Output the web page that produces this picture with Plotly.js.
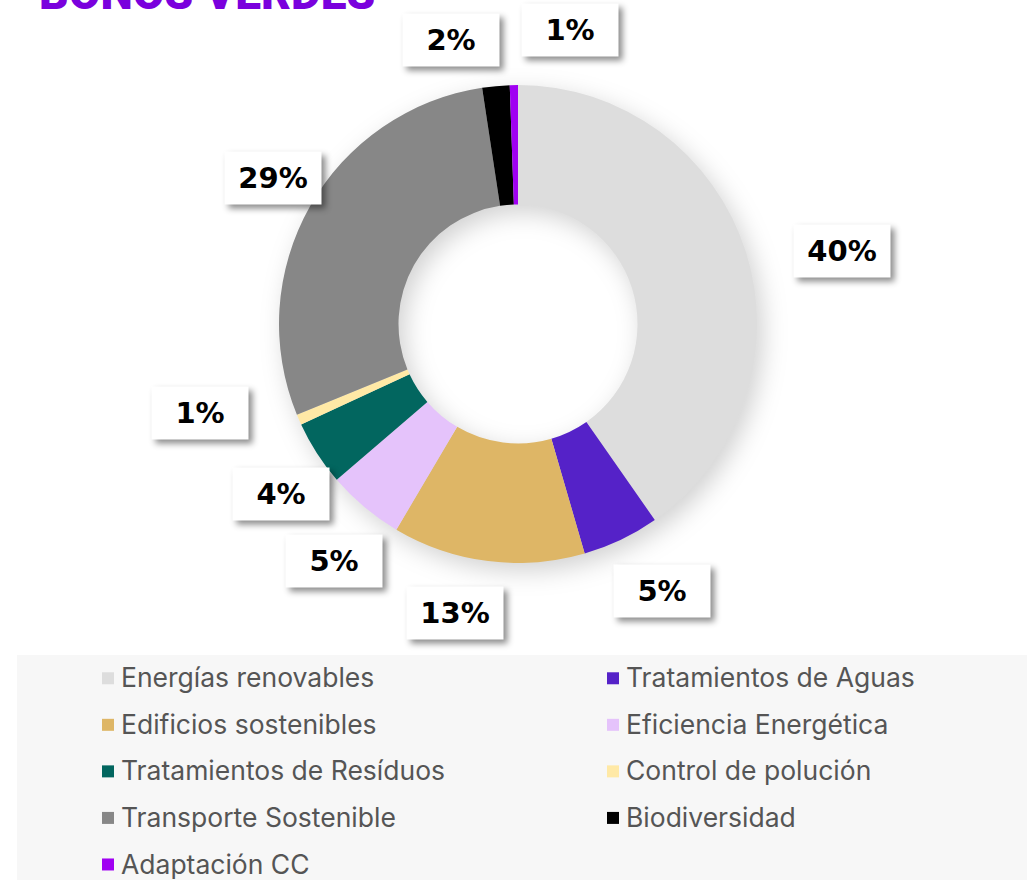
<!DOCTYPE html>
<html lang="es">
<head>
<meta charset="utf-8">
<script src="https://cdn.plot.ly/plotly-3.0.1.min.js"></script>
<style>
  html, body { margin: 0; padding: 0; background: #fff; }
  #chart { width: 1033px; height: 880px; }
  /* sombra suave del anillo y de las cajas de porcentaje */
  .pielayer { filter: drop-shadow(6px 8px 12px rgba(0, 0, 0, 0.18)); }
  .annotation rect.bg { filter: drop-shadow(4px 4px 3px rgba(0, 0, 0, 0.45)); }
  /* la leyenda se calcula con fuente grande (filas separadas) pero se pinta más pequeña */
  .legendtext { font-size: 26.5px !important; transform: translate(-7px, -4px); }
</style>
</head>
<body>
<div id="chart"></div>
<script>
// Datos (porcentaje de emisión por uso de fondos)
const categorias = [
  "Energías renovables",
  "Tratamientos de Aguas",
  "Edificios sostenibles",
  "Eficiencia Energética",
  "Tratamientos de Resíduos",
  "Control de polución",
  "Transporte Sostenible",
  "Biodiversidad",
  "Adaptación CC",
];
const valores = [40.3, 5.2, 13.0, 5.2, 4.4, 0.7, 28.8, 1.85, 0.55];
const colores = [
  "#dddddd",
  "#5522c8",
  "#deb666",
  "#e5c3fb",
  "#02665f",
  "#ffe9a6",
  "#878787",
  "#000000",
  "#a000f2",
];

// pequeños desplazamientos (px) de las cajas respecto a la posición radial
const ajusteEtiquetas = [
  [38, 17], [15, -4], [-25, -9], [9, 7], [15, 8],
  [-43, -31], [16, 2], [-39, 15], [57, 6],
];

const W = 1033;
const H = 880;
const dominioX = [279 / W, 757 / W];
const dominioY = [1 - 563 / H, 1 - 85 / H];
const radioEtiqueta = 300;

function toPaper(px, py) {
  return { x: px / W, y: 1 - py / H };
}

function crearEtiquetas() {
  const total = valores.reduce((a, b) => a + b, 0);
  const cx = ((dominioX[0] + dominioX[1]) / 2) * W;
  const cy = (1 - (dominioY[0] + dominioY[1]) / 2) * H;
  let acumulado = 0;
  let anotaciones = [];

  for (let i = 0; i < valores.length; i++) {
    const medio = (acumulado + valores[i] / 2) / total;
    acumulado += valores[i];
    const ang = medio * 2 * Math.PI; // desde las 12, sentido horario
    const px = cx + radioEtiqueta * Math.sin(ang) + ajusteEtiquetas[i][0];
    const py = cy - radioEtiqueta * Math.cos(ang) + ajusteEtiquetas[i][1];
    const p = toPaper(px, py);
    anotaciones.push({
      xref: "paper",
      yref: "paper",
      x: p.x,
      y: p.y,
      xanchor: "center",
      yanchor: "middle",
      text: Math.round((valores[i] / total) * 100) + "%",
      showarrow: false,
      width: 96,
      height: 52,
      borderpad: 0,
      bgcolor: "#ffffff",
      font: { family: "DejaVu Sans", size: 29, weight: 900, color: "#000000" },
    });
  }
  return anotaciones;
}

const trace = {
  type: "pie",
  labels: categorias,
  values: valores,
  marker: { colors: colores, line: { width: 0 } },
  hole: 0.5,
  sort: false,
  direction: "clockwise",
  rotation: 0,
  textinfo: "none",
  hoverinfo: "label+percent",
  domain: { x: dominioX, y: dominioY },
};

let anotaciones = crearEtiquetas();
anotaciones.push({
  xref: "paper",
  yref: "paper",
  x: 37 / W,
  y: 1 - 22 / H,
  xanchor: "left",
  yanchor: "bottom",
  text: "BONOS VERDES",
  showarrow: false,
  font: { family: "Roboto", size: 46, weight: 900, color: "#7a00dd" },
});

const layout = {
  width: W,
  height: H,
  margin: { l: 0, r: 0, t: 0, b: 0, autoexpand: false },
  paper_bgcolor: "#ffffff",
  showlegend: true,
  legend: {
    orientation: "h",
    x: 88 / W,
    y: 1 - 650 / H,
    xanchor: "left",
    yanchor: "top",
    entrywidth: 460,
    bgcolor: "rgba(0,0,0,0)",
    font: { family: "Inter", size: 33.5, color: "#555555" },
  },
  shapes: [
    {
      type: "rect",
      xref: "paper",
      yref: "paper",
      x0: 17 / W,
      x1: 1027 / W,
      y0: 0,
      y1: 1 - 655 / H,
      fillcolor: "#f7f7f7",
      line: { width: 0 },
      layer: "below",
    },
  ],
  annotations: anotaciones,
};

Plotly.newPlot("chart", [trace], layout, { displayModeBar: false, responsive: false });
</script>
</body>
</html>
